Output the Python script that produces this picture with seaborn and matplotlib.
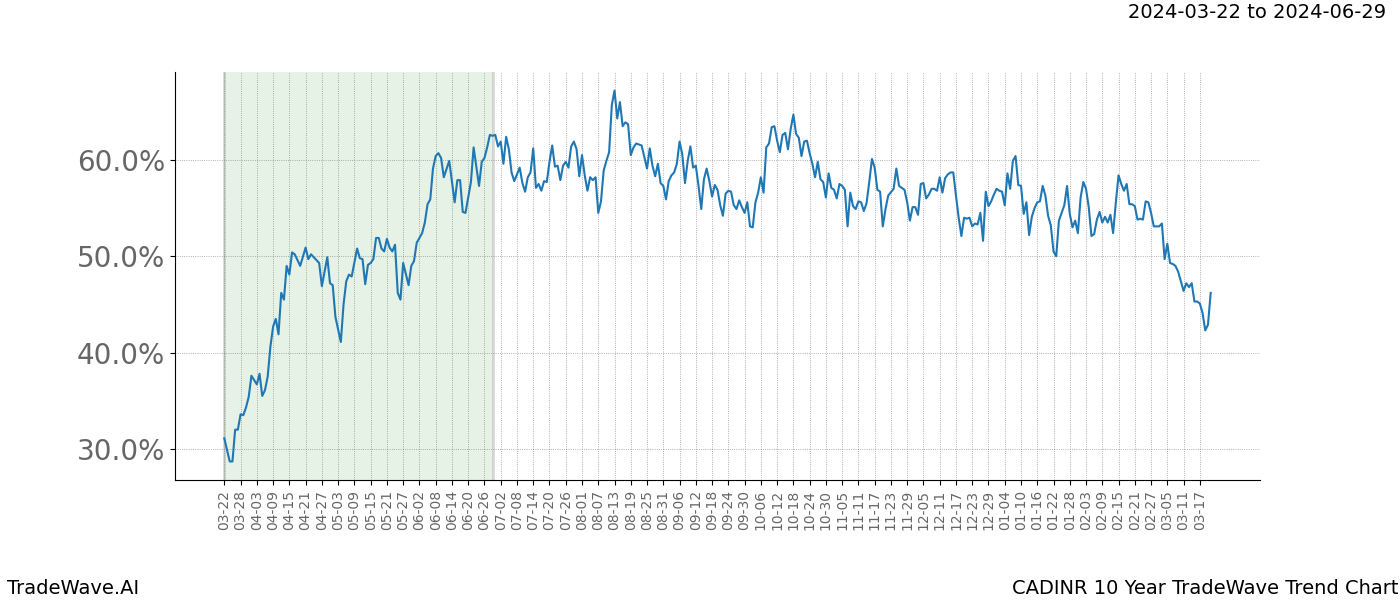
import matplotlib
matplotlib.use("Agg")
import matplotlib.pyplot as plt
import matplotlib.dates as mdates
from matplotlib.ticker import FuncFormatter
import seaborn as sns
import pandas as pd

# ---- data ----
start_date = "2024-03-22"
highlight_start = "2024-03-22"
highlight_end = "2024-06-29"
title_right = "2024-03-22 to 2024-06-29"
footer_left = "TradeWave.AI"
footer_right = "CADINR 10 Year TradeWave Trend Chart"

day_offsets = [
    0, 2, 3, 4, 5, 6, 7, 8, 9, 10, 12, 13, 14, 15, 16, 17, 18, 19, 20, 21,
    22, 23, 24, 25, 26, 28, 30, 31, 32, 35, 36, 38, 39, 40, 41, 43, 44, 45, 46, 47,
    49, 50, 51, 52, 53, 54, 55, 56, 57, 58, 59, 60, 61, 62, 63, 64, 65, 66, 68, 69,
    70, 71, 73, 74, 75, 76, 77, 78, 79, 80, 81, 83, 85, 86, 87, 88, 89, 91, 92, 94,
    95, 96, 97, 98, 99, 100, 101, 102, 103, 104, 105, 106, 107, 109, 110, 111, 112, 113, 114, 115,
    116, 117, 118, 119, 120, 121, 122, 123, 124, 125, 126, 127, 128, 129, 130, 131, 132, 133, 134, 135,
    136, 137, 138, 139, 140, 141, 142, 143, 144, 145, 146, 147, 148, 149, 150, 151, 152, 154, 156, 157,
    158, 159, 160, 161, 162, 163, 164, 165, 166, 167, 168, 169, 170, 171, 172, 173, 174, 175, 176, 177,
    178, 179, 180, 181, 182, 183, 184, 185, 186, 187, 188, 189, 190, 191, 192, 193, 194, 195, 196, 197,
    198, 199, 200, 201, 202, 203, 204, 205, 206, 207, 208, 209, 210, 211, 212, 213, 214, 215, 216, 217,
    218, 219, 220, 221, 222, 223, 224, 225, 226, 227, 228, 229, 230, 231, 232, 233, 234, 235, 236, 237,
    238, 239, 240, 241, 242, 243, 244, 245, 247, 248, 249, 250, 251, 252, 253, 254, 255, 256, 257, 258,
    259, 260, 261, 262, 263, 264, 265, 266, 267, 268, 269, 270, 271, 272, 273, 274, 275, 276, 277, 278,
    279, 280, 281, 282, 283, 284, 285, 286, 287, 288, 289, 290, 291, 292, 293, 294, 295, 296, 297, 298,
    299, 300, 301, 302, 303, 304, 305, 306, 307, 308, 309, 310, 311, 312, 313, 314, 315, 316, 317, 318,
    319, 320, 321, 322, 323, 324, 325, 326, 327, 328, 329, 330, 331, 332, 333, 334, 335, 336, 337, 338,
    339, 340, 341, 342, 343, 344, 345, 346, 347, 348, 349, 350, 351, 352, 353, 354, 355, 356, 357, 358,
    359, 360, 361, 362, 363, 364,
]

ratio_pct = [
    31.1, 28.7, 28.7, 32.0, 32.0, 33.6, 33.5, 34.3, 35.4, 37.6, 36.7, 37.8, 35.5, 36.1, 37.5, 40.6, 42.7, 43.5, 41.9, 46.2,
    45.5, 49.0, 48.1, 50.4, 50.2, 49.0, 50.9, 49.7, 50.2, 49.3, 46.9, 49.9, 47.2, 47.0, 43.7, 41.1, 45.0, 47.4, 48.1, 47.9,
    50.8, 49.8, 49.7, 47.1, 49.1, 49.3, 49.7, 51.9, 51.9, 50.8, 50.5, 51.8, 50.9, 50.5, 51.2, 46.2, 45.5, 49.3, 47.0, 49.0,
    49.5, 51.4, 52.4, 53.5, 55.4, 55.9, 59.1, 60.4, 60.7, 60.2, 58.2, 59.9, 55.6, 57.9, 57.9, 54.6, 54.5, 57.7, 61.3, 57.3,
    59.8, 60.2, 61.3, 62.6, 62.5, 62.6, 61.4, 61.9, 59.6, 62.4, 61.1, 58.7, 57.8, 59.2, 57.6, 56.7, 58.2, 58.7, 61.2, 57.1,
    57.5, 56.8, 57.8, 57.7, 59.8, 61.5, 59.3, 59.4, 57.9, 59.4, 59.8, 59.2, 61.4, 61.9, 61.1, 58.3, 60.5, 58.4, 56.8, 58.2,
    57.9, 58.2, 54.5, 55.7, 58.9, 59.9, 60.8, 65.7, 67.2, 64.3, 66.0, 63.5, 63.9, 63.7, 60.5, 61.3, 61.7, 61.5, 59.1, 61.2,
    59.4, 58.3, 59.6, 57.6, 57.3, 55.9, 57.8, 58.4, 58.7, 59.6, 61.9, 60.6, 57.6, 59.9, 61.4, 59.2, 59.4, 57.3, 54.9, 58.0,
    59.1, 57.8, 56.2, 57.4, 56.9, 55.3, 54.2, 56.5, 56.8, 56.7, 55.3, 54.9, 55.8, 55.1, 54.5, 55.6, 53.1, 53.0, 55.6, 56.6,
    58.2, 56.6, 61.3, 61.7, 63.4, 63.5, 62.0, 60.8, 62.6, 62.8, 61.1, 63.2, 64.7, 62.7, 62.3, 60.4, 61.9, 62.0, 60.7, 59.6,
    58.2, 59.8, 58.0, 57.7, 56.1, 58.6, 57.1, 56.9, 56.0, 57.5, 57.3, 56.9, 53.1, 56.6, 55.2, 54.9, 55.7, 55.6, 54.7, 55.5,
    57.7, 60.1, 59.2, 56.9, 56.7, 53.1, 54.9, 56.3, 57.0, 59.1, 57.3, 57.1, 56.9, 55.6, 53.7, 55.1, 55.1, 54.3, 57.5, 57.6,
    56.0, 56.4, 57.0, 57.0, 56.8, 58.2, 56.6, 58.1, 58.5, 58.7, 58.7, 56.3, 54.0, 52.1, 54.0, 53.9, 54.0, 53.1, 53.4, 53.3,
    54.5, 51.6, 56.7, 55.2, 55.7, 56.4, 57.0, 56.8, 56.7, 55.3, 58.6, 57.0, 59.9, 60.4, 57.4, 57.3, 54.4, 55.6, 52.2, 54.1,
    55.0, 55.6, 55.7, 57.3, 56.3, 54.2, 53.2, 50.5, 50.0, 53.7, 54.5, 55.3, 57.3, 54.4, 53.0, 53.7, 52.4, 56.1, 57.7, 57.0,
    55.1, 52.1, 52.3, 53.8, 54.6, 53.5, 54.1, 53.5, 54.3, 52.4, 55.6, 58.4, 57.5, 56.8, 57.5, 55.4, 55.4, 55.2, 53.8, 53.9,
    53.8, 55.7, 55.6, 54.5, 53.1, 53.1, 53.1, 53.4, 49.7, 51.3, 49.3, 49.2, 49.0, 48.4, 47.4, 46.4, 47.2, 46.8, 47.2, 45.3,
    45.3, 45.1, 44.1, 42.3, 42.9, 46.2,
]

tick_step_days = 6
n_ticks = 61

# ---- build frame ----
base = pd.Timestamp(start_date)
df = pd.DataFrame({
    "date": [base + pd.Timedelta(days=d) for d in day_offsets],
    "value": ratio_pct,
})

fig, ax = plt.subplots(figsize=(14, 6), dpi=100)
fig.subplots_adjust(left=0.125, right=0.9, top=0.88, bottom=0.2)

ax.axvspan(pd.Timestamp(highlight_start), pd.Timestamp(highlight_end),
           color="green", alpha=0.1, lw=0)
for edge in (highlight_start, highlight_end):
    ax.axvline(pd.Timestamp(edge), color="gray", alpha=0.3, lw=2)

sns.lineplot(data=df, x="date", y="value", ax=ax, color="#1f77b4", lw=1.5)

tick_dates = [base + pd.Timedelta(days=tick_step_days * k) for k in range(n_ticks)]
ax.set_xticks(tick_dates)
ax.xaxis.set_major_formatter(mdates.DateFormatter("%m-%d"))
ax.tick_params(axis="x", labelrotation=90, labelsize=10, labelcolor="#666666")
ax.tick_params(axis="y", labelsize=20, labelcolor="#666666")
ax.yaxis.set_major_formatter(FuncFormatter(lambda v, p: f"{v:.1f}%"))
ax.set_yticks([30, 40, 50, 60])

ax.grid(True, axis="both", linestyle=":", color="gray", lw=0.6, alpha=0.8)
ax.set_axisbelow(True)
ax.spines["top"].set_visible(False)
ax.spines["right"].set_visible(False)
ax.set_xlabel("")
ax.set_ylabel("")

fig.text(0.99, 0.98, title_right, ha="right", va="center", fontsize=14)
fig.text(0.005, 0.02, footer_left, ha="left", va="center", fontsize=14)
fig.text(0.999, 0.02, footer_right, ha="right", va="center", fontsize=14)

fig.savefig("out.png", dpi=100)
